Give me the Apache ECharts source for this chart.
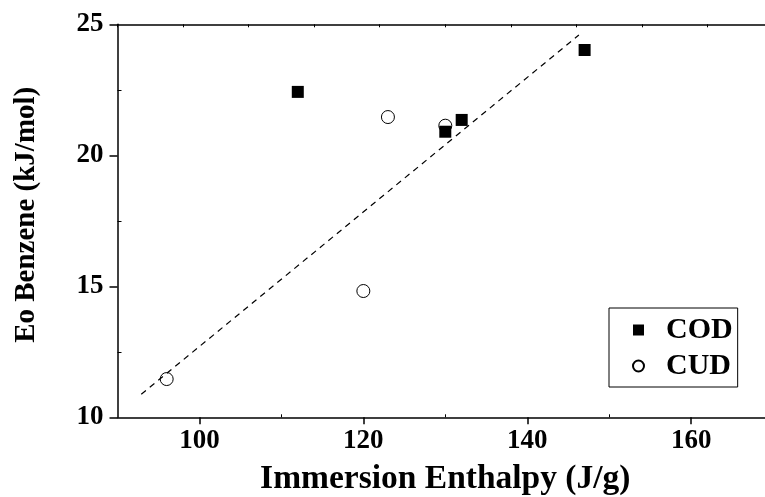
<!DOCTYPE html>
<html>
<head>
<meta charset="utf-8">
<script src="https://cdn.jsdelivr.net/npm/echarts@6/dist/echarts.min.js"></script>
<style>html,body{margin:0;padding:0;background:#fff}#c{width:765px;height:497px}</style>
</head>
<body>
<div id="c"></div>
<script>
const codX = [112, 130, 132, 147];
const codY = [22.42, 20.9, 21.35, 24.02];
const cudX = [96, 120, 123, 130];
const cudY = [11.46, 14.82, 21.46, 21.13];
const fitX = [92.9, 146.3];
const fitY = [10.88, 24.59];
const xMajorTicks = [100, 120, 140, 160];
const xMinorTicks = [110, 130, 150];
const yMinorTicks = [12.5, 17.5, 22.5];

const FONT = 'Liberation Serif';
const chart = echarts.init(document.getElementById('c'));
const pair = (xs, ys) => xs.map((x, i) => [x, ys[i]]);
const axisLine = {show: true, lineStyle: {color: '#000', width: 1.5}};

chart.setOption({
  animation: false,
  backgroundColor: '#fff',
  grid: {left: 117.5, top: 24.3, width: 655.6, height: 393, containLabel: false, outerBoundsMode: 'none'},
  xAxis: [
    {type: 'value', min: 90, max: 170, position: 'bottom',
     axisLine: axisLine, splitLine: {show: false},
     axisTick: {show: true, customValues: xMajorTicks, length: 7, lineStyle: {color: '#000', width: 1.5}},
     axisLabel: {customValues: xMajorTicks, color: '#000', fontFamily: FONT, fontWeight: 'bold', fontSize: 27, margin: 10},
     name: 'Immersion Enthalpy (J/g)', nameLocation: 'middle', nameGap: 45,
     nameTextStyle: {color: '#000', fontFamily: FONT, fontWeight: 'bold', fontSize: 33.5}},
    {type: 'value', min: 90, max: 170, position: 'bottom', gridIndex: 0,
     axisLine: {show: false}, splitLine: {show: false}, axisLabel: {show: false},
     axisTick: {show: true, inside: true, customValues: xMinorTicks, length: 3, lineStyle: {color: '#000', width: 1}}},
    {type: 'value', min: 0, max: 10, interval: 1, position: 'top', gridIndex: 0,
     axisLine: axisLine, splitLine: {show: false}, axisLabel: {show: false},
     axisTick: {show: true, inside: true, length: 3, lineStyle: {color: '#000', width: 1}}}
  ],
  yAxis: [
    {type: 'value', min: 10, max: 25, interval: 5, position: 'left',
     axisLine: axisLine, splitLine: {show: false},
     axisTick: {show: true, length: 8, lineStyle: {color: '#000', width: 1.5}},
     axisLabel: {color: '#000', fontFamily: FONT, fontWeight: 'bold', fontSize: 27, margin: 14},
     name: 'Eo Benzene (kJ/mol)', nameLocation: 'middle', nameGap: 76, nameRotate: 90,
     nameTextStyle: {color: '#000', fontFamily: FONT, fontWeight: 'bold', fontSize: 29, padding: [0, 0, 0, 12]}},
    {type: 'value', min: 10, max: 25, position: 'left', gridIndex: 0,
     axisLine: {show: false}, splitLine: {show: false}, axisLabel: {show: false},
     axisTick: {show: true, inside: true, customValues: yMinorTicks, length: 4, lineStyle: {color: '#000', width: 1}}}
  ],
  legend: {
    orient: 'vertical', left: 609, top: 308, width: 115,
    padding: [7, 5, 6, 23], itemGap: 6, itemWidth: 11, itemHeight: 11,
    borderColor: '#000', borderWidth: 1, backgroundColor: '#fff',
    textStyle: {color: '#000', fontFamily: FONT, fontWeight: 'bold', fontSize: 30, padding: [0, 0, 0, 17]},
    data: [{name: 'COD', icon: 'rect'}, {name: 'CUD', icon: 'circle'}]
  },
  series: [
    {name: 'fit', type: 'line', data: pair(fitX, fitY), symbol: 'none', silent: true,
     lineStyle: {color: '#000', width: 1.2, type: [6, 5]}, z: 1},
    {name: 'COD', type: 'scatter', data: pair(codX, codY), symbol: 'rect', symbolSize: 12,
     itemStyle: {color: '#000', opacity: 1}, z: 2},
    {name: 'CUD', type: 'scatter', data: pair(cudX, cudY), symbol: 'circle', symbolSize: 13,
     itemStyle: {color: 'rgba(255,255,255,0)', borderColor: '#000', borderWidth: 1, opacity: 1}, z: 3}
  ]
});
</script>
</body>
</html>
